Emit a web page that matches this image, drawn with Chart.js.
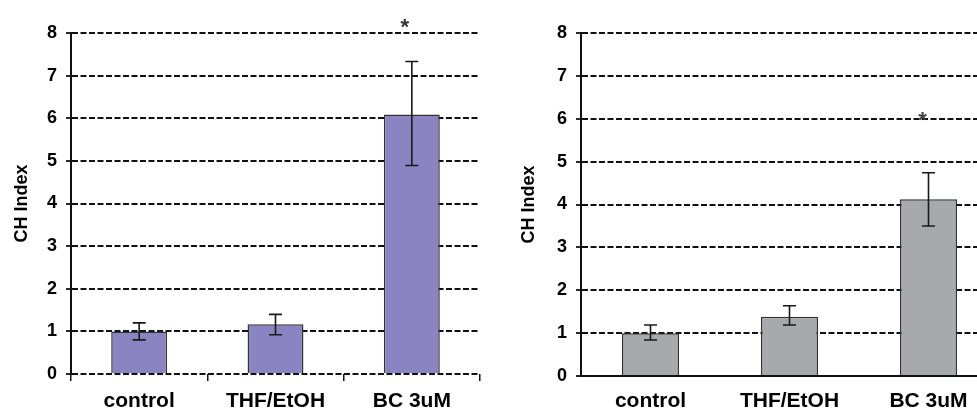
<!DOCTYPE html>
<html lang="en">
<head>
    <meta charset="UTF-8">
    <title>CH Index</title>
    <style>
        html, body { margin: 0; padding: 0; background: #fff; overflow: hidden; }
        body { width: 977px; height: 409px; position: relative; }
        .panel { position: absolute; top: 0; height: 409px; }
    </style>
</head>
<body>

<div class="panel" style="left:0;width:490px;">
    <canvas id="leftChart" width="490" height="409"></canvas>
</div>
<div class="panel" style="left:490px;width:520px;">
    <canvas id="rightChart" width="520" height="409"></canvas>
</div>

<script src="https://cdn.jsdelivr.net/npm/chart.js"></script>

<script>
    // categories and values
    const categories = ['control', 'THF/EtOH', 'BC 3uM'];
    const yTicks = [0, 1, 2, 3, 4, 5, 6, 7, 8];

    const leftMeans = [1.0, 1.17, 6.09];
    const leftErrLow = [0.8, 0.92, 4.89];
    const leftErrHigh = [1.2, 1.4, 7.33];
    const leftStars = [null, null, 8.28];

    const rightMeans = [1.0, 1.38, 4.12];
    const rightErrLow = [0.84, 1.19, 3.5];
    const rightErrHigh = [1.19, 1.64, 4.74];
    const rightStars = [null, null, 6.1];

    const fontFamily = '"Liberation Sans", Arial, sans-serif';

    // draws error bars and the significance stars from the arrays above
    const errorBarPlugin = {
        id: 'errorBars',
        afterDatasetsDraw(chart, args, opts) {
            const ctx = chart.ctx;
            const y = chart.scales.y;
            const meta = chart.getDatasetMeta(0);
            ctx.save();
            ctx.strokeStyle = '#1a1a1a';
            ctx.lineWidth = 1.6;
            meta.data.forEach((bar, i) => {
                const top = y.getPixelForValue(opts.high[i]);
                const bottom = y.getPixelForValue(opts.low[i]);
                ctx.beginPath();
                ctx.moveTo(bar.x, top);
                ctx.lineTo(bar.x, bottom);
                ctx.moveTo(bar.x - 6.5, top);
                ctx.lineTo(bar.x + 6.5, top);
                ctx.moveTo(bar.x - 6.5, bottom);
                ctx.lineTo(bar.x + 6.5, bottom);
                ctx.stroke();
            });
            ctx.restore();
        },
        afterDraw(chart, args, opts) {
            const ctx = chart.ctx;
            const y = chart.scales.y;
            const meta = chart.getDatasetMeta(0);
            ctx.save();
            ctx.fillStyle = opts.starColor;
            ctx.font = 'bold 22px ' + fontFamily;
            ctx.textAlign = 'center';
            ctx.textBaseline = 'alphabetic';
            meta.data.forEach((bar, i) => {
                if (opts.stars[i] == null) return;
                ctx.fillText('*', bar.x + opts.starShift, y.getPixelForValue(opts.stars[i]) + 13);
            });
            ctx.restore();
        }
    };

    function makeChart(id, s) {
        return new Chart(document.getElementById(id), {
            type: 'bar',
            data: {
                labels: categories,
                datasets: [{
                    data: s.means,
                    backgroundColor: s.color,
                    borderColor: '#333',
                    borderWidth: 1.5,
                    barPercentage: 0.41,
                    categoryPercentage: 1
                }]
            },
            plugins: [errorBarPlugin],
            options: {
                responsive: false,
                animation: false,
                layout: { padding: { top: 33, right: s.padRight, left: 0, bottom: 0 } },
                plugins: {
                    legend: { display: false },
                    tooltip: { enabled: false },
                    errorBars: { low: s.low, high: s.high, stars: s.stars, starShift: s.starShift, starColor: s.starColor }
                },
                scales: {
                    x: {
                        afterFit: sc => { sc.height = s.xHeight; },
                        border: { display: s.xBorder, color: '#111', width: 2 },
                        grid: {
                            display: s.xTicks,
                            drawOnChartArea: false,
                            offset: true,
                            drawTicks: s.xTicks,
                            tickLength: 7,
                            color: '#111',
                            lineWidth: 1.5
                        },
                        ticks: {
                            color: '#000',
                            padding: s.xPad,
                            font: { family: fontFamily, size: 21, weight: 'bold' }
                        }
                    },
                    y: {
                        min: 0,
                        max: 8,
                        afterFit: sc => { sc.width = s.yWidth; },
                        afterBuildTicks: sc => { sc.ticks = yTicks.map(v => ({ value: v })); },
                        border: { display: true, color: '#111', width: 2, dash: [6, 2.5] },
                        grid: {
                            color: '#111',
                            lineWidth: 2,
                            tickLength: 5,
                            tickBorderDash: [],
                            tickWidth: 1.8
                        },
                        ticks: {
                            color: '#000',
                            padding: 9,
                            font: { family: fontFamily, size: 18, weight: 'bold' }
                        },
                        title: {
                            display: true,
                            text: 'CH Index',
                            color: '#000',
                            padding: { top: s.titlePad, bottom: 0 },
                            font: { family: fontFamily, size: 18, weight: 'bold' }
                        }
                    }
                }
            }
        });
    }

    makeChart('leftChart', {
        means: leftMeans, low: leftErrLow, high: leftErrHigh, stars: leftStars,
        color: '#8a84c2', starColor: '#333', starShift: -7,
        padRight: 10, xHeight: 35, yWidth: 71, titlePad: 11,
        xBorder: false, xTicks: true, xPad: 8
    });

    makeChart('rightChart', {
        means: rightMeans, low: rightErrLow, high: rightErrHigh, stars: rightStars,
        color: '#a8a9ac', starColor: '#444', starShift: -6,
        padRight: 12, xHeight: 33, yWidth: 91, titlePad: 28,
        xBorder: true, xTicks: false, xPad: 13
    });
</script>

</body>
</html>
